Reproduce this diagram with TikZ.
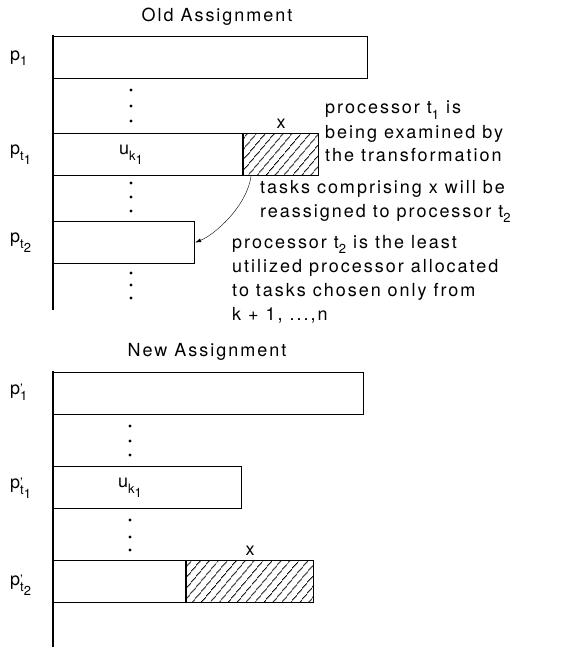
\documentclass[tikz,border=0pt]{standalone}
\usepackage{fontspec}
\setmainfont{TeX Gyre Heros}[LetterSpace=11]
\usetikzlibrary{arrows.meta,positioning,calc,patterns.meta}

\newcommand\lo[1]{\raisebox{-0.6ex}{\fontsize{13}{13}\selectfont #1}}
\newcommand\pr{\rlap{\raisebox{0.15ex}{\fontsize{13}{13}\selectfont '}}}

\begin{document}
\begin{tikzpicture}[x=1pt,y=-1pt,
  every node/.style={font=\fontsize{18}{24}\selectfont},
  bar/.style={draw,line width=1.1pt,inner sep=0pt,anchor=north west,minimum height=42pt},
  hatchbar/.style={bar,pattern={Lines[angle=50,distance=6.5pt,line width=0.8pt]}},
  lbl/.style={anchor=west,inner sep=0pt},
  note/.style={align=left,anchor=base west,inner sep=0pt}]
\useasboundingbox (0,0) rectangle (566,647);
% old assignment
\node (oldt) at (217,17) {Old Assignment};
\draw[line width=1.1pt] (53,35) -- (53,310);
\node[bar,minimum width=314pt] (p1) at (53,36) {};
\node[bar,minimum width=189pt] (pt1) at (53,133) {};
\node[hatchbar,minimum width=75pt] (h1) at (pt1.north east) {};
\node[bar,minimum width=141pt] (pt2) at (53,221) {};
\node at (131,155) (u1) {u\lo{k\lo{1}}};
\node[above=1pt of h1] (x1) {x};
\node[lbl] (l1) at (10,58) {p\lo{1}};
\node[lbl] (l2) at (10,155) {p\lo{t\lo{1}}};
\node[lbl] (l3) at (10,243) {p\lo{t\lo{2}}};
\foreach \y in {90,106,121,183,197,211,273,285,298}
  \fill (131,\y) circle (1.7);
\draw[-{Latex[length=6pt,width=4pt]},thin] ([xshift=8pt]h1.south west)
  .. controls +(-4,30) and +(20,-8) .. (pt2.east);
% base anchor sits on the last line
\node[note] (n1) at (325,162) {processor t\lo{1} is\\being examined by\\the transformation};
\node[note] (n2) at (260,217) {tasks comprising x will be\\reassigned to processor t\lo{2}};
\node[note] (n3) at (232,320) {processor t\lo{2} is the least\\utilized processor allocated\\to tasks chosen only from\\k + 1, ...,n};
% new assignment
\node (newt) at (207,352) {New Assignment};
\draw[line width=1.1pt] (53,371) -- (53,647);
\node[bar,minimum width=310pt] (q1) at (53,372) {};
\node[bar,minimum width=188pt] (qt1) at (53,466) {};
\node[bar,minimum width=132pt] (qt2) at (53,560) {};
\node[hatchbar,minimum width=127pt] (h2) at (qt2.north east) {};
\node at (130,488) (u2) {u\lo{k\lo{1}}};
\node[above=1pt of h2] (x2) {x};
\node[lbl] (m1) at (10,392) {p\pr\lo{1}};
\node[lbl] (m2) at (10,488) {p\pr\lo{t\lo{1}}};
\node[lbl] (m3) at (10,585) {p\pr\lo{t\lo{2}}};
\foreach \y in {426,441,455,520,537,550}
  \fill (130,\y) circle (1.7);
\end{tikzpicture}
\end{document}
